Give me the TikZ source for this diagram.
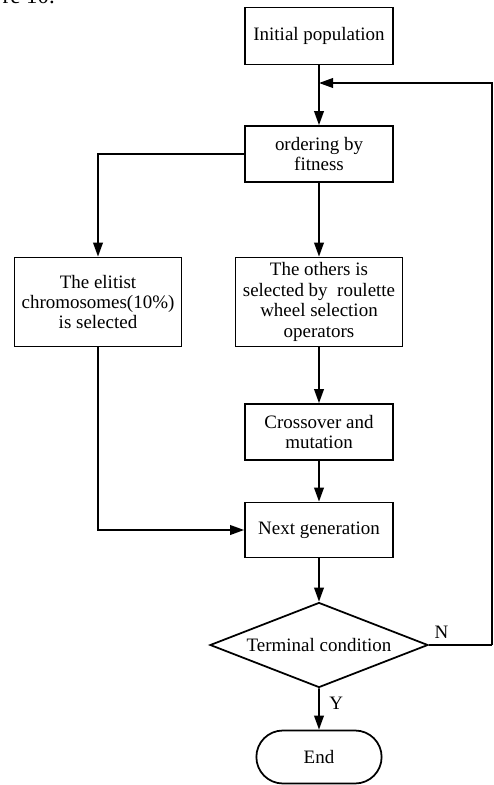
\documentclass[tikz,border=0pt]{standalone}
\usepackage{fontspec}
\setmainfont{Liberation Serif}
\usetikzlibrary{arrows.meta}
\usetikzlibrary{shapes}

\begin{document}
\begin{tikzpicture}[x=0.02cm,y=-0.02cm,line width=1pt,
    >={Triangle[length=8pt,width=5.5pt]},
    every node/.style={font=\fontsize{10.8}{11.6}\selectfont,align=center},
    box/.style={draw,rectangle,inner sep=1pt},
    test/.style={draw,diamond,aspect=2.56,inner sep=0pt,minimum width=4.36cm,minimum height=1.7cm},
    stop/.style={draw,rounded rectangle,minimum width=2.74cm,minimum height=1.06cm}]
    \useasboundingbox (0,0) rectangle (494,785);
    \node[anchor=base west,font=\fontsize{13}{14}\selectfont] (cap) at (-4,3) {re 10.};
    \node[box,minimum width=2.96cm,minimum height=1.14cm] (init)   at (319, 36) {Initial population};
    \node[box,minimum width=2.96cm,minimum height=1.12cm] (order)  at (319,154) {ordering by\\fitness};
    \node[box,minimum width=3.34cm,minimum height=1.78cm] (elite)  at ( 98,302) {The elitist\\chromosomes(10\%)\\is selected};
    \node[box,minimum width=3.34cm,minimum height=1.78cm] (others) at (319,302) {The others is\\selected by\ \ roulette\\wheel selection\\operators};
    \node[box,minimum width=2.96cm,minimum height=1.12cm] (cross)  at (319,432) {Crossover and\\mutation};
    \node[box,minimum width=2.96cm,minimum height=1.10cm] (next)   at (319,530) {Next generation};
    \node[test] (term) at (319,645) {Terminal condition};
    \node[stop] (end)  at (319,757) {End};
    \coordinate (join) at (319, 83);
    \coordinate (back) at (492, 83);
    \coordinate (turn) at (492,645);
    \draw (init) -- (join);
    \draw[->] (join) -- (order);
    \draw[->] (order.west) -| (elite.north);
    \draw[->] (order) -- (others);
    \draw[->] (others) -- (cross);
    \draw[->] (cross) -- (next);
    \draw[->] (elite.south) |- (next.west);
    \draw[->] (next) -- (term);
    \draw[->] (term) -- node[right,pos=0.35,xshift=2pt] {Y} (end);
    \draw (term.east) -- node[above,pos=0.2] {N} (turn);
    \draw[->] (turn) -- (back) -- (join);
  \end{tikzpicture}
\end{document}
